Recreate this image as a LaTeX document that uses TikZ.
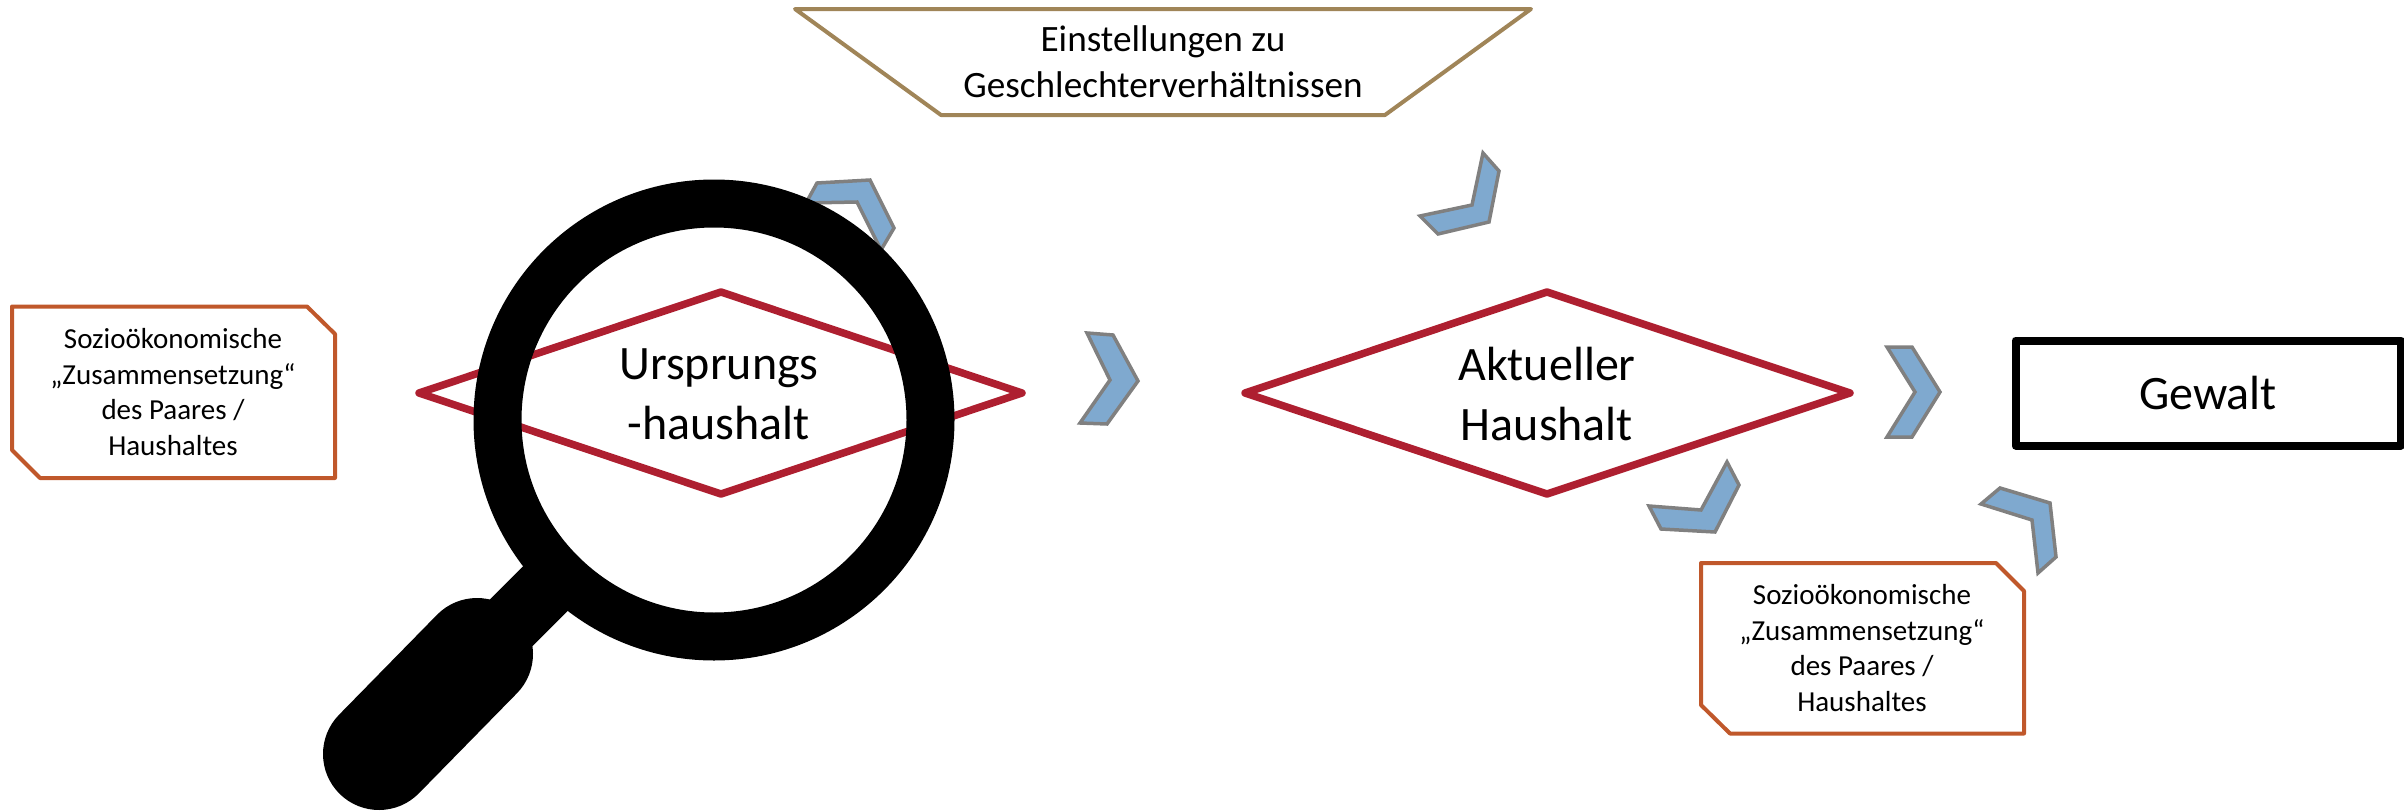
\documentclass[tikz,border=0pt]{standalone}
\usepackage{fontspec}
\setmainfont{Carlito}
\definecolor{dred}{HTML}{AE1F30}
\definecolor{dorange}{HTML}{C0582B}
\definecolor{dtan}{HTML}{A08558}
\definecolor{cfill}{HTML}{7FA9CF}
\definecolor{cline}{HTML}{808080}
\tikzset{
  diamondline/.style={draw=dred,line width=7.5pt,line join=round,fill=white},
  sociobox/.style={draw=dorange,line width=4pt,line join=round,fill=white},
  attitude/.style={draw=dtan,line width=4pt,line join=round,fill=white},
  chevronshape/.style={draw=cline,fill=cfill,line width=3.5pt,line join=miter},
  bigtext/.style={align=center,font=\fontsize{48}{60}\selectfont,inner sep=0pt},
  midtext/.style={align=center,font=\fontsize{37.2}{46}\selectfont,inner sep=0pt},
  smalltext/.style={align=center,font=\fontsize{29}{35.4}\selectfont,inner sep=0pt},
}
\begin{document}
\begin{tikzpicture}[x=1pt,y=-1pt]
\useasboundingbox (0,0) rectangle (2404,811);
% chevrons
\draw[chevronshape] (817,183) -- (870,180) -- (894,228) -- (881,250) -- (857,202) -- (806,203) -- cycle;
\draw[chevronshape] (1087,333) -- (1113,335) -- (1138,381) -- (1107,424) -- (1080,423) -- (1110,380) -- cycle;
\draw[chevronshape] (1483,153) -- (1499,171) -- (1489,222) -- (1438,234) -- (1420,216) -- (1472,205) -- cycle;
\draw[chevronshape] (1887,347) -- (1912,347) -- (1940,392) -- (1912,437) -- (1887,437) -- (1915,392) -- cycle;
\draw[chevronshape] (1727,462) -- (1739,485) -- (1715,532) -- (1661,529) -- (1649,506) -- (1701,510) -- cycle;
\draw[chevronshape] (2000,488) -- (2050,503) -- (2056,557) -- (2038,573) -- (2032,520) -- (1981,504) -- cycle;
% trapezoid
\draw[attitude] (795,9) -- (1531,9) -- (1385,115) -- (941,115) -- cycle;
\node[midtext] (attitudes) at (1163,62) {Einstellungen zu\\Geschlechterverhältnissen};
% socio boxes
\draw[sociobox] (12,306.5) -- (307,306.5) -- (335,334) -- (335,478) -- (40,478) -- (12,450) -- cycle;
\node[smalltext] (socioA) at (173,392) {Sozioökonomische\\„Zusammensetzung“\\des Paares /\\Haushaltes};
\draw[sociobox] (1701,563) -- (1996,563) -- (2024,591) -- (2024,733.5) -- (1730,733.5) -- (1701,705) -- cycle;
\node[smalltext] (socioB) at (1862,648) {Sozioökonomische\\„Zusammensetzung“\\des Paares /\\Haushaltes};
% diamonds
\draw[diamondline] (419,393) -- (721,292) -- (1022,393) -- (721,494) -- cycle;
\node[bigtext] (origin) at (719,394) {Ursprungs\\-haushalt};
\draw[diamondline] (1245,393) -- (1547,292) -- (1850,393) -- (1547,494) -- cycle;
\node[bigtext] (current) at (1547,394) {Aktueller\\Haushalt};
% violence
\node[draw=black,line width=8pt,line join=round,minimum width=385pt,minimum height=105pt,inner sep=0pt,font=\fontsize{48}{60}\selectfont] (violence) at (2208,393) {Gewalt};
% magnifier
\draw[black,line width=48pt] (714,420) circle[radius=216.5];
\draw[black,line width=63pt] (562,572) -- (470,664);
\draw[black,line width=112pt,line cap=round] (477,654) -- (379,754);
\end{tikzpicture}
\end{document}
